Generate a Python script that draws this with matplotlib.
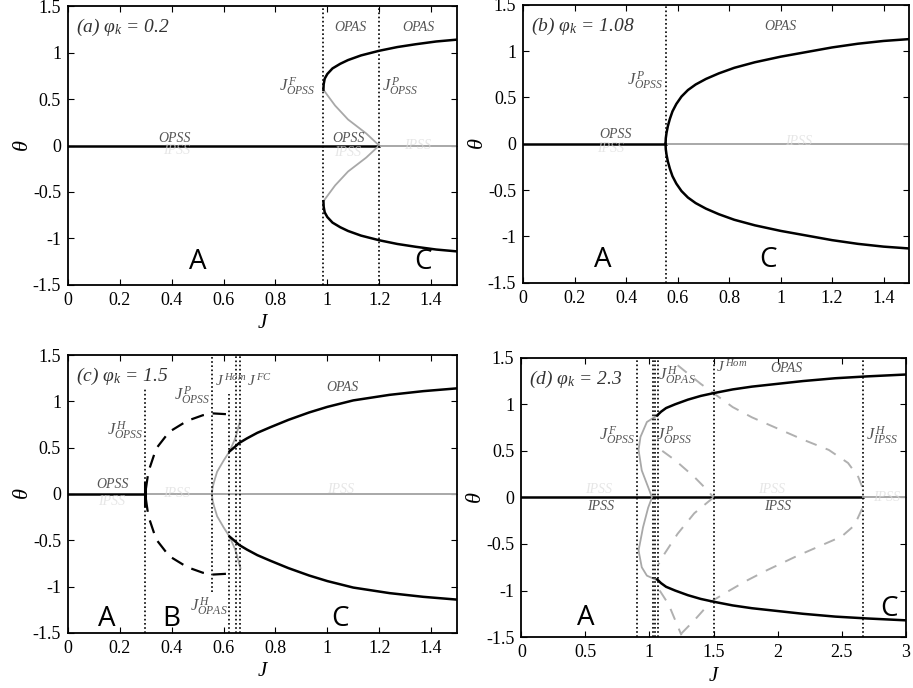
import matplotlib
matplotlib.use("Agg")
import matplotlib.pyplot as plt

plt.rcParams['font.family'] = ['Liberation Serif', 'DejaVu Serif']
plt.rcParams['mathtext.fontset'] = 'custom'
plt.rcParams['mathtext.rm'] = 'Liberation Serif'
plt.rcParams['mathtext.it'] = 'Liberation Serif:italic'

# ---- (a) phi_k = 0.2 ----
a_Jf, a_Jp = 0.985, 1.2
a_up_J = [0.985, 0.986, 0.99, 1.0, 1.02, 1.05, 1.08, 1.13, 1.2, 1.27, 1.34, 1.42, 1.5]
a_up_th = [0.60, 0.66, 0.72, 0.77, 0.83, 0.88, 0.92, 0.97, 1.02, 1.06, 1.09, 1.12, 1.14]
a_un_J = [0.985, 1.03, 1.08, 1.15, 1.2]
a_un_th = [0.60, 0.43, 0.28, 0.13, 0.0]

# ---- (b) phi_k = 1.08 ----
b_Jp = 0.553
b_up_J = [0.553, 0.554, 0.557, 0.562, 0.57, 0.58, 0.595, 0.615, 0.64, 0.67, 0.71,
          0.76, 0.82, 0.9, 1.0, 1.1, 1.2, 1.3, 1.4, 1.5]
b_up_th = [0.0, 0.06, 0.12, 0.19, 0.27, 0.35, 0.43, 0.51, 0.58, 0.64, 0.70,
           0.76, 0.82, 0.88, 0.94, 0.99, 1.04, 1.08, 1.11, 1.13]

# ---- (c) phi_k = 1.5 ----
c_Jh, c_Jp, c_Jho, c_Jfc1, c_Jfc2 = 0.296, 0.557, 0.62, 0.647, 0.663
c_up_J = [0.623, 0.64, 0.66, 0.69, 0.73, 0.78, 0.85, 0.93, 1.0, 1.1, 1.24, 1.37, 1.5]
c_up_th = [0.46, 0.50, 0.55, 0.60, 0.66, 0.72, 0.80, 0.88, 0.94, 1.01, 1.07, 1.11, 1.14]
c_un_J = [0.555, 0.557, 0.562, 0.575, 0.6, 0.623, 0.645, 0.665]
c_un_th = [0.0, 0.06, 0.12, 0.24, 0.36, 0.46, 0.60, 0.80]
c_lc_J = [0.30, 0.31, 0.34, 0.39, 0.46, 0.52, 0.557, 0.62]
c_lc_th = [0.05, 0.24, 0.49, 0.67, 0.79, 0.85, 0.87, 0.86]

# ---- (d) phi_k = 2.3 ----
d_Jf, d_Jh1, d_Jh2, d_Jp, d_Jhom, d_Jhi = 0.90, 1.026, 1.04, 1.064, 1.5, 2.667
d_up_J = [1.06, 1.09, 1.13, 1.2, 1.3, 1.4, 1.5, 1.65, 1.8, 2.0, 2.2, 2.45, 2.7, 3.0]
d_up_th = [0.88, 0.92, 0.96, 1.0, 1.05, 1.09, 1.12, 1.16, 1.19, 1.22, 1.25, 1.28, 1.30, 1.32]
d_s_J = [1.06, 0.98, 0.93, 0.915, 0.94, 0.99, 1.02, 0.99, 0.95, 0.915, 0.94, 0.98, 1.06]
d_s_th = [0.88, 0.81, 0.65, 0.51, 0.29, 0.11, 0.0, -0.11, -0.32, -0.57, -0.75, -0.84, -0.89]
d_dash1_J = [1.22, 1.3, 1.4, 1.5, 1.65, 1.8, 2.0, 2.2, 2.4, 2.55, 2.63, 2.67]
d_dash1_th = [1.42, 1.33, 1.22, 1.12, 0.97, 0.86, 0.74, 0.62, 0.51, 0.37, 0.22, 0.08]
d_dash2_J = [2.66, 2.6, 2.5, 2.35, 2.15, 1.92, 1.75, 1.6, 1.48, 1.35, 1.25]
d_dash2_th = [-0.12, -0.30, -0.42, -0.51, -0.63, -0.78, -0.90, -1.02, -1.12, -1.32, -1.46]
d_dash3_J = [1.1, 1.2, 1.35, 1.45, 1.5]
d_dash3_th = [0.50, 0.40, 0.22, 0.08, 0.0]
d_dash4_J = [1.5, 1.35, 1.22, 1.12, 1.07]
d_dash4_th = [0.0, -0.17, -0.39, -0.60, -0.72]
d_dash5_J = [1.08, 1.15, 1.25]
d_dash5_th = [-1.0, -1.15, -1.48]

GRAY = '#a8a8a8'
LBL = '#555555'


def neg(v):
    return [-x for x in v]


def setup(ax, xmax, xticks, xticklabels, xlabel=True):
    ax.set_xlim(0, xmax)
    ax.set_ylim(-1.5, 1.5)
    ax.set_xticks(xticks)
    ax.set_xticklabels(xticklabels)
    ax.set_yticks([-1.5, -1, -0.5, 0, 0.5, 1, 1.5])
    ax.set_yticklabels(['-1.5', '-1', '-0.5', '0', '0.5', '1', '1.5'])
    ax.tick_params(direction='in', top=True, right=True, length=4, width=0.8,
                   labelsize=13, pad=5)
    for s in ax.spines.values():
        s.set_linewidth(1.3)
    ax.set_ylabel(r'$\theta$', fontsize=16, labelpad=0)
    if xlabel:
        ax.set_xlabel('J', fontsize=15, style='italic', labelpad=4)


def tag(ax, txt, x, y, size=10, ha='center'):
    ax.text(x, y, txt, fontsize=size, color=LBL, style='italic', ha=ha, va='center')


def region(ax, txt, x, y):
    ax.text(x, y, txt, fontsize=20, family='Open Sans', ha='center', va='center')


def ghost(ax, x, y):
    # faint, washed-out stability labels
    ax.text(x, y, 'IPSS', fontsize=10, color='#dcdcdc', alpha=0.7, style='italic',
            ha='center', va='center')


def vdot(ax, x, y0=-1.5, y1=1.5):
    ax.plot([x, x], [y0, y1], color='k', ls=(0, (1, 1.5)), lw=1.2)


fig = plt.figure(figsize=(9.13, 6.88), dpi=100)
axa = fig.add_axes([0.0745, 0.586, 0.426, 0.405])
axb = fig.add_axes([0.573, 0.589, 0.423, 0.404])
axc = fig.add_axes([0.0745, 0.080, 0.426, 0.404])
axd = fig.add_axes([0.571, 0.074, 0.421, 0.406])

t15 = [0, 0.2, 0.4, 0.6, 0.8, 1, 1.2, 1.4]
l15 = ['0', '0.2', '0.4', '0.6', '0.8', '1', '1.2', '1.4']

# (a)
ax = axa
ghost(ax, 0.42, -0.05); ghost(ax, 1.08, -0.08); ghost(ax, 1.35, 0.0)
ax.plot([0, a_Jp], [0, 0], color='k', lw=1.8)
ax.plot([a_Jp, 1.5], [0, 0], color=GRAY, lw=1.4)
ax.plot(a_un_J, a_un_th, color=GRAY, lw=1.3)
ax.plot(a_un_J, neg(a_un_th), color=GRAY, lw=1.3)
ax.plot(a_up_J, a_up_th, color='k', lw=1.8)
ax.plot(a_up_J, neg(a_up_th), color='k', lw=1.8)
vdot(ax, a_Jf); vdot(ax, a_Jp)
ax.text(0.03, 1.27, r'(a) $\varphi_k$ = 0.2', fontsize=14, style='italic', color='#333333', va='center')
tag(ax, 'OPAS', 1.09, 1.27); tag(ax, 'OPAS', 1.35, 1.27)
tag(ax, 'OPSS', 0.41, 0.08); tag(ax, 'OPSS', 1.08, 0.08)
tag(ax, r'$J^{\,F}_{OPSS}$', 0.955, 0.63, size=12, ha='right')
tag(ax, r'$J^{\,P}_{OPSS}$', 1.21, 0.63, size=12, ha='left')
region(ax, 'A', 0.5, -1.25); region(ax, 'C', 1.37, -1.25)
setup(ax, 1.5, t15, l15)

# (b)
ax = axb
ghost(ax, 0.34, -0.05); ghost(ax, 1.07, 0.02)
ax.plot([0, b_Jp], [0, 0], color='k', lw=1.8)
ax.plot([b_Jp, 1.5], [0, 0], color=GRAY, lw=1.4)
ax.plot(b_up_J, b_up_th, color='k', lw=1.8)
ax.plot(b_up_J, neg(b_up_th), color='k', lw=1.8)
vdot(ax, b_Jp)
ax.text(0.03, 1.27, r'(b) $\varphi_k$ = 1.08', fontsize=14, style='italic', color='#333333', va='center')
tag(ax, 'OPAS', 1.0, 1.27)
tag(ax, 'OPSS', 0.36, 0.1)
tag(ax, r'$J^{\,P}_{OPSS}$', 0.545, 0.68, size=12, ha='right')
region(ax, 'A', 0.31, -1.25); region(ax, 'C', 0.95, -1.25)
setup(ax, 1.5, t15, l15, xlabel=False)

# (c)
ax = axc
ghost(ax, 0.17, -0.08); ghost(ax, 0.42, 0.0); ghost(ax, 1.05, 0.05)
ax.plot([0, c_Jh], [0, 0], color='k', lw=1.8)
ax.plot([c_Jh, 1.5], [0, 0], color=GRAY, lw=1.4)
ax.plot([c_Jh, c_Jh], [-0.12, 0.12], color='k', lw=2.2)
ax.plot(c_lc_J, c_lc_th, color='k', lw=1.6, dashes=(6, 4))
ax.plot(c_lc_J, neg(c_lc_th), color='k', lw=1.6, dashes=(6, 4))
ax.plot(c_un_J, c_un_th, color=GRAY, lw=1.3)
ax.plot(c_un_J, neg(c_un_th), color=GRAY, lw=1.3)
ax.plot(c_up_J, c_up_th, color='k', lw=1.8)
ax.plot(c_up_J, neg(c_up_th), color='k', lw=1.8)
vdot(ax, c_Jh, -1.5, 1.14); vdot(ax, c_Jp, -1.06, 1.5); vdot(ax, c_Jho, -1.5, 1.08)
vdot(ax, c_Jfc1); vdot(ax, c_Jfc2)
ax.text(0.03, 1.27, r'(c) $\varphi_k$ = 1.5', fontsize=14, style='italic', color='#333333', va='center')
tag(ax, 'OPAS', 1.06, 1.15)
tag(ax, 'OPSS', 0.17, 0.1)
tag(ax, r'$J^{\,H}_{OPSS}$', 0.29, 0.68, size=12, ha='right')
tag(ax, r'$J^{\,P}_{OPSS}$', 0.55, 1.06, size=12, ha='right')
tag(ax, r'$J^{\,Hom}$', 0.565, 1.22, size=11, ha='left')
tag(ax, r'$J^{\,FC}$', 0.69, 1.22, size=11, ha='left')
tag(ax, r'$J^{\,H}_{OPAS}$', 0.615, -1.22, size=12, ha='right')
region(ax, 'A', 0.15, -1.35); region(ax, 'B', 0.4, -1.35); region(ax, 'C', 1.05, -1.35)
setup(ax, 1.5, t15, l15)

# (d)
ax = axd
ghost(ax, 0.6, 0.08); ghost(ax, 1.95, 0.08); ghost(ax, 2.85, 0.0)
ax.plot([0, d_Jhi], [0, 0], color='k', lw=1.8)
ax.plot([d_Jhi, 3.0], [0, 0], color=GRAY, lw=1.4)
ax.plot(d_s_J, d_s_th, color=GRAY, lw=1.3)
for dj, dt in [(d_dash1_J, d_dash1_th), (d_dash2_J, d_dash2_th), (d_dash3_J, d_dash3_th),
               (d_dash4_J, d_dash4_th), (d_dash5_J, d_dash5_th)]:
    ax.plot(dj, dt, color='#b0b0b0', lw=1.4, dashes=(6, 5))
ax.plot(d_up_J, d_up_th, color='k', lw=1.8)
ax.plot(d_up_J, neg(d_up_th), color='k', lw=1.8)
for x in (d_Jf, d_Jh1, d_Jh2, d_Jp, d_Jhom, d_Jhi):
    vdot(ax, x)
ax.text(0.06, 1.27, r'(d) $\varphi_k$ = 2.3', fontsize=14, style='italic', color='#333333', va='center')
tag(ax, 'OPAS', 2.07, 1.38)
tag(ax, 'IPSS', 0.62, -0.1); tag(ax, 'IPSS', 2.0, -0.1)
tag(ax, r'$J^{\,H}_{OPAS}$', 1.07, 1.3, size=12, ha='left')
tag(ax, r'$J^{\,Hom}$', 1.52, 1.4, size=11, ha='left')
tag(ax, r'$J^{\,F}_{OPSS}$', 0.89, 0.66, size=12, ha='right')
tag(ax, r'$J^{\,P}_{OPSS}$', 1.05, 0.66, size=12, ha='left')
tag(ax, r'$J^{\,H}_{IPSS}$', 2.69, 0.66, size=12, ha='left')
region(ax, 'A', 0.5, -1.3); region(ax, 'C', 2.87, -1.2)
setup(ax, 3.0, [0, 0.5, 1, 1.5, 2, 2.5, 3], ['0', '0.5', '1', '1.5', '2', '2.5', '3'])

plt.savefig('out.png', dpi=100)
